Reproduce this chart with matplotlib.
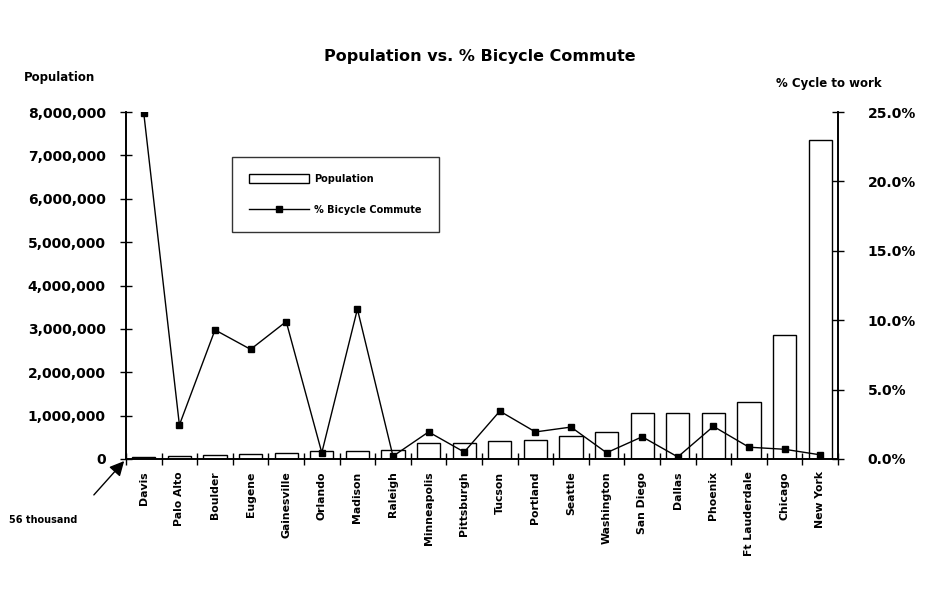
import matplotlib
matplotlib.use("Agg")
import matplotlib.pyplot as plt
from matplotlib.ticker import FuncFormatter, PercentFormatter, MultipleLocator
from matplotlib.patches import Patch
from matplotlib.lines import Line2D

cities = ["Davis", "Palo Alto", "Boulder", "Eugene", "Gainesville", "Orlando",
          "Madison", "Raleigh", "Minneapolis", "Pittsburgh", "Tucson", "Portland",
          "Seattle", "Washington", "San Diego", "Dallas", "Phoenix",
          "Ft Lauderdale", "Chicago", "New York"]
population = [56000, 58000, 85000, 115000, 135000, 175000, 190000, 210000,
              365000, 375000, 405000, 440000, 525000, 620000, 1060000,
              1050000, 1060000, 1320000, 2860000, 7350000]
pct_bicycle = [24.9, 2.45, 9.3, 7.9, 9.9, 0.45, 10.8, 0.2, 1.95, 0.5, 3.45,
               1.95, 2.3, 0.45, 1.6, 0.15, 2.35, 0.85, 0.7, 0.3]

plt.rcParams['font.family'] = ['DejaVu Sans']

W, H = 938, 600
fig = plt.figure(figsize=(W / 100, H / 100), dpi=100)
L, R, T, B = 126, 838, 112, 459
ax = fig.add_axes([L / W, 1 - B / H, (R - L) / W, (B - T) / H])
ax2 = ax.twinx()

x = list(range(len(cities)))
ax.bar(x, population, width=0.65, facecolor='white', edgecolor='black', linewidth=1.0)
ax2.plot(x, pct_bicycle, color='black', linewidth=1.0, marker='s', markersize=5)

ax.set_xlim(-0.5, len(cities) - 0.5)
ax.set_ylim(0, 8000000)
ax2.set_ylim(0, 25)
ax.yaxis.set_major_locator(MultipleLocator(1000000))
ax.yaxis.set_major_formatter(FuncFormatter(lambda v, p: f"{int(v):,}"))
ax2.yaxis.set_major_locator(MultipleLocator(5))
ax2.yaxis.set_major_formatter(PercentFormatter(xmax=100, decimals=1))

ax.set_xticks(x)
ax.set_xticklabels(cities, rotation=90, fontsize=7.8, fontweight='bold')
ax.set_xticks([i - 0.5 for i in range(len(cities) + 1)], minor=True)
ax.tick_params(axis='x', which='major', length=0, pad=9)
ax.tick_params(axis='x', which='minor', direction='inout', length=9, width=1)
ax.tick_params(axis='y', direction='inout', length=9, width=1, labelsize=10, pad=10)
ax2.tick_params(axis='y', direction='inout', length=9, width=1, labelsize=10, pad=17)
for lab in ax.get_yticklabels() + ax2.get_yticklabels():
    lab.set_fontweight('bold')

for a in (ax, ax2):
    a.spines['top'].set_visible(False)
    a.spines['left'].set_linewidth(1.2)
    a.spines['right'].set_linewidth(1.2)
    a.spines['bottom'].set_linewidth(1.2)

fig.text(480 / W, 1 - 57 / H, "Population vs. % Bicycle Commute", ha='center', va='center',
         fontsize=11.5, fontweight='bold')
fig.text(59 / W, 1 - 77 / H, "Population", ha='center', va='center', fontsize=8.5, fontweight='bold')
fig.text(829 / W, 1 - 84 / H, "% Cycle to work", ha='center', va='center', fontsize=8.5, fontweight='bold')

handles = [Patch(facecolor='white', edgecolor='black', linewidth=1.0),
           Line2D([], [], color='black', linewidth=1.0, marker='s', markersize=4)]
leg = ax2.legend(handles, ["Population", "% Bicycle Commute"],
                 loc='upper left', bbox_to_anchor=((232 - L) / (R - L), (B - 157) / (B - T)),
                 borderaxespad=0, fancybox=False, frameon=True, edgecolor='black',
                 prop={'size': 7, 'weight': 'bold'}, handlelength=6.2, handleheight=1.1,
                 labelspacing=2.2, borderpad=1.75, handletextpad=0.5)
leg.get_frame().set_linewidth(1.0)

ax.annotate("", xy=(-0.5, 0), xycoords='data', xytext=(92 / W, 1 - 497 / H),
            textcoords='figure fraction',
            arrowprops=dict(arrowstyle='-|>', color='black', lw=1.0, mutation_scale=22))
fig.text(43 / W, 1 - 520 / H, "56 thousand", ha='center', va='center', fontsize=7, fontweight='bold')

fig.savefig("out.png", dpi=100)
